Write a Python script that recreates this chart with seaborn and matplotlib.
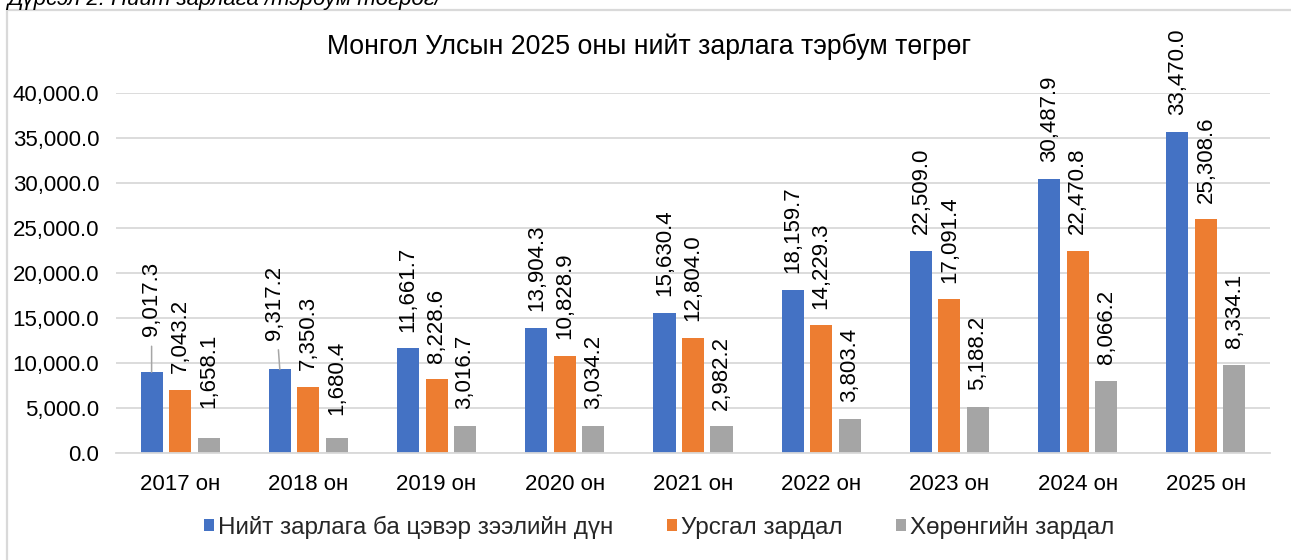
import matplotlib
matplotlib.use("Agg")
import matplotlib.pyplot as plt
import seaborn as sns
import pandas as pd
from matplotlib.patches import Rectangle

# ---------------- data ----------------
years = ["2017 он", "2018 он", "2019 он", "2020 он", "2021 он",
         "2022 он", "2023 он", "2024 он", "2025 он"]
series_names = ["Нийт зарлага ба цэвэр зээлийн дүн", "Урсгал зардал", "Хөрөнгийн зардал"]

# bar heights as drawn
total_bars = [9017.3, 9317.2, 11661.7, 13904.3, 15630.4, 18159.7, 22509.0, 30487.9, 35700.0]
current_bars = [7043.2, 7350.3, 8228.6, 10828.9, 12804.0, 14229.3, 17091.4, 22470.8, 26000.0]
capital_bars = [1658.1, 1680.4, 3016.7, 3034.2, 2982.2, 3803.4, 5188.2, 8066.2, 9800.0]

# data label values as printed
total_labels = [9017.3, 9317.2, 11661.7, 13904.3, 15630.4, 18159.7, 22509.0, 30487.9, 33470.0]
current_labels = [7043.2, 7350.3, 8228.6, 10828.9, 12804.0, 14229.3, 17091.4, 22470.8, 25308.6]
capital_labels = [1658.1, 1680.4, 3016.7, 3034.2, 2982.2, 3803.4, 5188.2, 8066.2, 8334.1]

yticks = [0, 5000, 10000, 15000, 20000, 25000, 30000, 35000, 40000]

title = "Монгол Улсын 2025 оны нийт зарлага тэрбум төгрөг"
caption = "Дүрсэл 2. Нийт зарлага /тэрбум төгрөг/"

colors = ["#4472C4", "#ED7D31", "#A5A5A5"]

# ---------------- build table ----------------
rows = []
for name, vals in zip(series_names, [total_bars, current_bars, capital_bars]):
    for y, v in zip(years, vals):
        rows.append({"year": y, "series": name, "value": v})
df = pd.DataFrame(rows)

sns.set_theme(style="white")
plt.rcParams["font.family"] = ["Liberation Sans", "DejaVu Sans"]

W, H = 1291, 560
fig = plt.figure(figsize=(W / 100, H / 100), dpi=100)
ax = fig.add_axes([116 / W, 1 - 453.3 / H, (1270 - 116) / W, (453.3 - 93.3) / H])

sns.barplot(data=df, x="year", y="value", hue="series", hue_order=series_names,
            order=years, palette=colors, width=0.667, gap=0.225, ax=ax,
            linewidth=0, saturation=1, legend=True, errorbar=None)

ax.set_xlim(-0.5, len(years) - 0.5)
ax.set_ylim(0, 40000)
ax.set_yticks(yticks)
ax.set_yticklabels([f"{v:,.1f}" for v in yticks])
ax.set_xlabel("")
ax.set_ylabel("")
ax.yaxis.grid(True, color="#D9D9D9", linewidth=1.3)
ax.set_axisbelow(True)
for s in ["left", "right", "top"]:
    ax.spines[s].set_visible(False)
ax.spines["bottom"].set_color("#D9D9D9")
ax.spines["bottom"].set_linewidth(1.3)
ax.tick_params(axis="y", length=0, pad=12, labelsize=16, labelcolor="#000000")
ax.tick_params(axis="x", length=0, pad=15, labelsize=16, labelcolor="#000000")

# ---------------- data labels ----------------
offs = [-0.2223, 0.0, 0.2223]
# extra lift (points) and horizontal shift for labels moved to avoid overlaps
lift = {(0, 0): 14, (0, 1): 9.5, (2, 0): 10, (2, 1): 4.5}
shift = {(0, 1): -3.5}
leader = {(0, 0), (0, 1)}
for si, (bars, labs) in enumerate(zip([total_bars, current_bars, capital_bars],
                                      [total_labels, current_labels, capital_labels])):
    for i, (b, l) in enumerate(zip(bars, labs)):
        dy = 12 + lift.get((si, i), 0)
        dx = shift.get((si, i), 0)
        kw = {}
        if (si, i) in leader:
            kw["arrowprops"] = dict(arrowstyle="-", color="#A6A6A6", lw=1.1,
                                    shrinkA=5, shrinkB=0)
        ax.annotate(f"{l:,.1f}", xy=(i + offs[si], b), xytext=(dx, dy),
                    textcoords="offset points", rotation=90, ha="center",
                    va="bottom", fontsize=16, color="#000000",
                    annotation_clip=False, **kw)

# ---------------- legend ----------------
handles, labels_ = ax.get_legend_handles_labels()
ax.legend(handles, labels_, loc="center", bbox_to_anchor=(659 / W, 1 - 527 / H),
          bbox_transform=fig.transFigure, ncol=3, frameon=False, fontsize=17.5,
          handlelength=0.42, handleheight=0.42, handletextpad=0.15,
          columnspacing=2.2, borderpad=0)

# ---------------- title, caption, frame ----------------
fig.text(649 / W, 1 - 47 / H, title, ha="center", va="center", fontsize=19.2,
         color="#000000")
fig.text(7 / W, 1 - 5 / H, caption, ha="left", va="baseline", fontsize=16,
         style="italic", color="#000000")
fig.patches.append(Rectangle((7 / W, -0.1), 1.2, 1.1 - 10 / H,
                             transform=fig.transFigure, fill=False,
                             edgecolor="#D9D9D9", linewidth=1.6))

fig.savefig("out.png", dpi=100)
